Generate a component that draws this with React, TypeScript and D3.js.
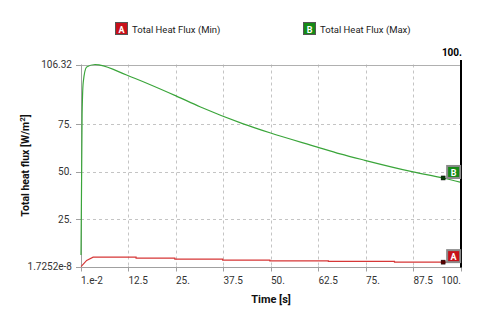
import * as d3 from "d3";

// Time [s] and values
const maxTime = [0.01, 0.3, 0.6, 1.5, 3.7, 5, 12, 25, 31.3, 42.7, 49.7, 62, 68.2, 74.7, 87.4, 95.3, 100];
const maxFlux = [6, 80, 97, 105, 106.32, 106, 100.8, 89.8, 84.1, 75.1, 70.4, 63, 59.3, 55.9, 49.8, 46.6, 44.3];

const minTime = [0.01, 0.2, 1.5, 3.2, 14.5, 14.5, 24.7, 24.7, 37.3, 37.3, 49.7, 49.7, 65.1, 65.1, 82.5, 82.5, 100];
const minFlux = [0, 0.3, 3.2, 4.94, 4.94, 4.42, 4.42, 3.89, 3.89, 3.36, 3.36, 3.0, 3.0, 2.65, 2.65, 2.3, 2.3];

const xTicks = [0.01, 12.5, 25, 37.5, 50, 62.5, 75, 87.5, 100];
const xTickLabels = ["1.e-2", "12.5", "25.", "37.5", "50.", "62.5", "75.", "87.5", "100."];
const yTicks = [0, 25, 50, 75, 106.32];
const yTickLabels = ["1.7252e-8", "25.", "50.", "75.", "106.32"];

const probeTime = 95.3;
const seriesNames = ["Total Heat Flux (Min)", "Total Heat Flux (Max)"];
const seriesTags = ["A", "B"];

export default function App() {
  const width = 480;
  const height = 320;
  const marginLeft = 81;
  const marginRight = 19;
  const marginTop = 64.5;
  const marginBottom = 53.5;
  const font = "'Segoe UI', Roboto, 'Liberation Sans', Arial, sans-serif";

  const x = d3.scaleLinear([0.01, 100], [marginLeft, width - marginRight]);
  const y = d3.scaleLinear([0, 106.32], [height - marginBottom, marginTop]);

  const path = (ts: number[], vs: number[], curve: d3.CurveFactory) =>
    d3.line<number>((d) => x(d), (_, i) => y(vs[i])).curve(curve)(ts) ?? "";

  // value of a series at the probe time
  const probe = (ts: number[], vs: number[]) => {
    const i = d3.bisectLeft(ts, probeTime);
    const t0 = ts[i - 1], t1 = ts[i];
    return vs[i - 1] + ((vs[i] - vs[i - 1]) * (probeTime - t0)) / (t1 - t0 || 1);
  };

  const series = [
    { name: seriesNames[0], tag: seriesTags[0], ts: minTime, vs: minFlux, curve: d3.curveLinear, color: "#d63636", fill: "#c8101a", dark: "#5a0000" },
    { name: seriesNames[1], tag: seriesTags[1], ts: maxTime, vs: maxFlux, curve: d3.curveMonotoneX, color: "#3aa53a", fill: "#158a15", dark: "#063d06" },
  ];

  const [x0, x1] = x.range();
  const [y0, y1] = y.range();

  return (
    <svg width={width} height={height} style={{ position: "absolute", left: 0, top: 0, background: "#fff" }} fontFamily={font}>
      {/* legend */}
      {series.map((s, i) => {
        const lx = i === 0 ? 115 : 303;
        return (
          <g key={s.tag} transform={`translate(${lx},22)`}>
            <rect x={0.5} y={0.5} width={12} height={12} fill={s.fill} stroke="#555" />
            <text x={6.5} y={10.5} fontSize={9} fill="#fff" textAnchor="middle" fontWeight="bold">{s.tag}</text>
            <text x={17} y={11} fontSize={9.5} fill="#222">{s.name}</text>
          </g>
        );
      })}

      {/* grid */}
      {xTicks.slice(1, -1).map((t) => (
        <line key={t} x1={Math.round(x(t)) + 0.5} x2={Math.round(x(t)) + 0.5} y1={y1} y2={y0} stroke="#c4c4c4" strokeDasharray="3,3" />
      ))}
      {yTicks.slice(1, -1).map((v) => (
        <line key={v} x1={x0} x2={x1} y1={Math.round(y(v)) + 0.5} y2={Math.round(y(v)) + 0.5} stroke="#c4c4c4" strokeDasharray="3,3" />
      ))}
      <line x1={x0} x2={x1} y1={Math.round(y1) + 0.5} y2={Math.round(y1) + 0.5} stroke="#b0b0b0" />

      {/* axes */}
      <line x1={x0 + 0.5} x2={x0 + 0.5} y1={y1} y2={y0} stroke="#a0a0a0" />
      <line x1={x0} x2={x1} y1={Math.round(y0) + 0.5} y2={Math.round(y0) + 0.5} stroke="#a0a0a0" />
      {yTicks.map((v, i) => (
        <g key={v}>
          <line x1={x0 - 5} x2={x0} y1={Math.round(y(v)) + 0.5} y2={Math.round(y(v)) + 0.5} stroke="#a0a0a0" />
          <text x={x0 - 9} y={y(v)} dy="0.35em" fontSize={10} fill="#333" textAnchor="end">{yTickLabels[i]}</text>
        </g>
      ))}
      {xTicks.map((t, i) => (
        <g key={t}>
          <line x1={Math.round(x(t)) + 0.5} x2={Math.round(x(t)) + 0.5} y1={y0} y2={y0 + 5} stroke="#a0a0a0" />
          <text x={x(t)} y={y0 + 14} dy="0.35em" fontSize={10} fill="#333" textAnchor={i === xTicks.length - 1 ? "end" : "start"}>{xTickLabels[i]}</text>
        </g>
      ))}

      {/* series */}
      {series.map((s) => (
        <path key={s.tag} d={path(s.ts, s.vs, s.curve)} fill="none" stroke={s.color} strokeWidth={1.2} />
      ))}

      {/* probe line */}
      <line x1={x1} x2={x1} y1={60} y2={y0 + 1} stroke="#000" strokeWidth={2} />
      <text x={x1 + 1} y={52} dy="0.35em" fontSize={10} fontWeight="bold" textAnchor="end" fill="#000">100.</text>

      {/* markers and tags */}
      {series.map((s) => {
        const py = y(probe(s.ts, s.vs));
        const px = x(probeTime);
        return (
          <g key={s.tag}>
            <rect x={px - 2} y={py - 2} width={4} height={4} fill={s.dark} stroke="#000" strokeWidth={0.5} />
            <rect x={px + 3} y={py - 13} width={15} height={14} fill="#8a8a8a" />
            <rect x={px + 5} y={py - 11} width={11} height={10} fill={s.fill} />
            <text x={px + 10.5} y={py - 5.5} dy="0.35em" fontSize={9} fontWeight="bold" fill="#fff" textAnchor="middle">{s.tag}</text>
          </g>
        );
      })}

      {/* titles */}
      <text x={(x0 + x1) / 2} y={299} dy="0.35em" fontSize={11} fontWeight="bold" textAnchor="middle" fill="#111">Time [s]</text>
      <text transform={`translate(25,${(y0 + y1) / 2}) rotate(-90)`} dy="0.35em" fontSize={10.5} fontWeight="bold" textAnchor="middle" fill="#111">
        Total heat flux [W/m<tspan dy="-4" fontSize={8}>2</tspan><tspan dy="4">]</tspan>
      </text>
    </svg>
  );
}
